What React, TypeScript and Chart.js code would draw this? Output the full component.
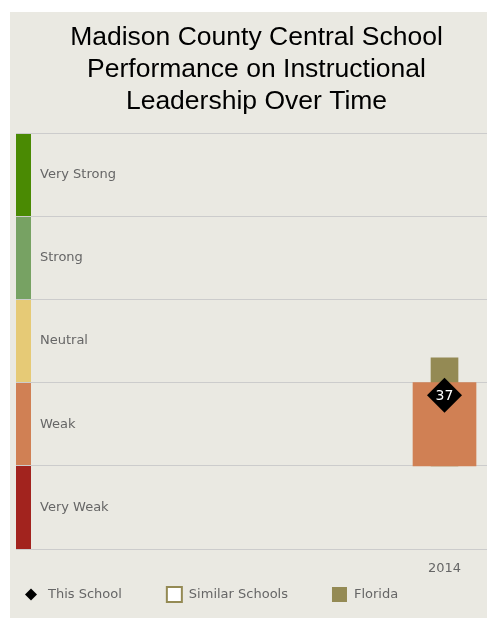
import { useEffect, useRef } from 'react';
import { Chart, registerables } from 'chart.js';

Chart.register(...registerables);

const TITLE_LINES = ['Madison County Central School', 'Performance on Instructional', 'Leadership Over Time'];
const BAND_LABELS = ['Very Weak', 'Weak', 'Neutral', 'Strong', 'Very Strong'];
const BAND_COLORS = ['#A2231E', '#D08054', '#E6CA76', '#77A263', '#4A8A03'];
const BAND_EDGES = [0, 20, 40, 60, 80, 100];
const YEARS = [2014];
const THIS_SCHOOL = [37];
const SIMILAR_SCHOOLS_RANGE: [number, number][] = [[20, 40]];
const FLORIDA_RANGE: [number, number][] = [[20, 46]];
const LEGEND_LABELS = ['This School', 'Similar Schools', 'Florida'];

const OLIVE = '#948A54';
const TEXT_GRAY = '#666666';
const BG = '#EAE9E2';
const FONT = '"DejaVu Sans", Verdana, sans-serif';

const bandColorFor = (range: [number, number]) => {
  const idx = BAND_EDGES.findIndex((e, i) => i < BAND_EDGES.length - 1 && range[0] >= e && range[0] < BAND_EDGES[i + 1]);
  return BAND_COLORS[Math.max(0, idx)];
};

const bandStripPlugin = {
  id: 'bandStrip',
  beforeDraw(chart: any) {
    const { ctx, chartArea, scales } = chart;
    const y = scales.y;
    ctx.save();
    BAND_COLORS.forEach((c, i) => {
      const top = y.getPixelForValue(BAND_EDGES[i + 1]);
      const bottom = y.getPixelForValue(BAND_EDGES[i]);
      ctx.fillStyle = c;
      ctx.fillRect(chartArea.left, top, 15, bottom - top);
    });
    ctx.restore();
  },
};

const pointLabelPlugin = {
  id: 'pointLabel',
  afterDatasetsDraw(chart: any) {
    const { ctx } = chart;
    const meta = chart.getDatasetMeta(0);
    ctx.save();
    ctx.fillStyle = '#FFFFFF';
    ctx.font = `14px ${FONT}`;
    ctx.textAlign = 'center';
    ctx.textBaseline = 'middle';
    meta.data.forEach((pt: any, i: number) => {
      ctx.fillText(String(THIS_SCHOOL[i]), pt.x, pt.y + 1);
    });
    ctx.restore();
  },
};

const legendPlugin = {
  id: 'customLegend',
  afterDraw(chart: any) {
    const { ctx, chartArea } = chart;
    const y = chart.height - 23.5;
    let x = chartArea.left + 9;
    ctx.save();
    ctx.font = `13px ${FONT}`;
    ctx.textBaseline = 'middle';
    ctx.textAlign = 'left';
    LEGEND_LABELS.forEach((label, i) => {
      if (i === 0) {
        const cx = x + 6;
        ctx.fillStyle = '#000000';
        ctx.beginPath();
        ctx.moveTo(cx, y - 6);
        ctx.lineTo(cx + 6, y);
        ctx.lineTo(cx, y + 6);
        ctx.lineTo(cx - 6, y);
        ctx.closePath();
        ctx.fill();
      } else if (i === 1) {
        ctx.fillStyle = OLIVE;
        ctx.fillRect(x, y - 8.5, 17, 17);
        ctx.fillStyle = '#FFFFFF';
        ctx.fillRect(x + 2, y - 6.5, 13, 13);
      } else {
        ctx.fillStyle = OLIVE;
        ctx.fillRect(x, y - 7.5, 15, 15);
      }
      ctx.fillStyle = TEXT_GRAY;
      const tx = x + (i === 2 ? 22 : 23);
      ctx.fillText(label, tx, y);
      x = tx + ctx.measureText(label).width + 44;
    });
    ctx.restore();
  },
};

export default function App() {
  const canvasRef = useRef<HTMLCanvasElement | null>(null);

  useEffect(() => {
    const canvas = canvasRef.current;
    if (!canvas) return;
    const chart = new Chart(canvas, {
      type: 'bar',
      data: {
        datasets: [
          {
            type: 'scatter',
            label: 'This School',
            data: YEARS.map((x, i) => ({ x, y: THIS_SCHOOL[i] })),
            pointStyle: 'rectRot',
            pointRadius: 17.5,
            pointHoverRadius: 17.5,
            backgroundColor: '#000000',
            borderWidth: 0,
            order: 0,
          } as any,
          {
            type: 'bar',
            label: 'Similar Schools',
            data: YEARS.map((x, i) => ({ x, y: SIMILAR_SCHOOLS_RANGE[i] })),
            backgroundColor: SIMILAR_SCHOOLS_RANGE.map(bandColorFor),
            barThickness: 63,
            grouped: false,
            order: 1,
          } as any,
          {
            type: 'bar',
            label: 'Florida',
            data: YEARS.map((x, i) => ({ x, y: FLORIDA_RANGE[i] })),
            backgroundColor: OLIVE,
            barThickness: 27,
            grouped: false,
            order: 2,
          } as any,
        ],
      },
      options: {
        animation: false,
        responsive: false,
        events: [],
        layout: { autoPadding: false, padding: { left: 6, right: 0, top: 0, bottom: 29 } },
        plugins: {
          legend: { display: false },
          tooltip: { enabled: false },
          title: {
            display: true,
            text: TITLE_LINES,
            color: '#000000',
            font: { family: '"Liberation Sans", Arial, sans-serif', size: 26.5, weight: 'normal', lineHeight: 1.21 },
            padding: { top: 9.5, bottom: 15.5 },
          },
        },
        scales: {
          x: {
            type: 'linear',
            offset: false,
            min: 2010,
            max: 2014.49,
            afterBuildTicks: (scale: any) => {
              scale.ticks = YEARS.map((v) => ({ value: v }));
            },
            afterFit: (scale: any) => {
              scale.paddingLeft = 0;
              scale.paddingRight = 0;
              scale.height = 40;
            },
            ticks: {
              callback: (v: any) => String(v),
              color: TEXT_GRAY,
              font: { family: FONT, size: 13 },
              padding: 12,
              maxRotation: 0,
            },
            grid: { display: false, drawTicks: false },
            border: { display: false },
          },
          y: {
            min: 0,
            max: 100,
            afterFit: (scale: any) => {
              scale.width = 0;
              scale.paddingTop = 0;
              scale.paddingBottom = 0;
            },
            ticks: {
              stepSize: 10,
              mirror: true,
              padding: 24,
              color: TEXT_GRAY,
              font: { family: FONT, size: 13 },
              callback: (v: any) => {
                const n = Number(v);
                return n % 20 === 10 ? BAND_LABELS[(n - 10) / 20] : '';
              },
            },
            grid: {
              drawTicks: false,
              lineWidth: 1,
              color: (ctx: any) => (ctx.tick && ctx.tick.value % 20 === 0 ? '#CCCCCC' : 'rgba(0,0,0,0)'),
            },
            border: { display: false },
          },
        },
      } as any,
      plugins: [bandStripPlugin, pointLabelPlugin, legendPlugin],
    });
    return () => chart.destroy();
  }, []);

  return (
    <div
      style={{
        position: 'fixed',
        left: 10,
        top: 12,
        width: 477,
        height: 606,
        overflow: 'hidden',
        background: BG,
      }}
    >
      <canvas ref={canvasRef} width={487} height={606} style={{ display: 'block' }} />
    </div>
  );
}
